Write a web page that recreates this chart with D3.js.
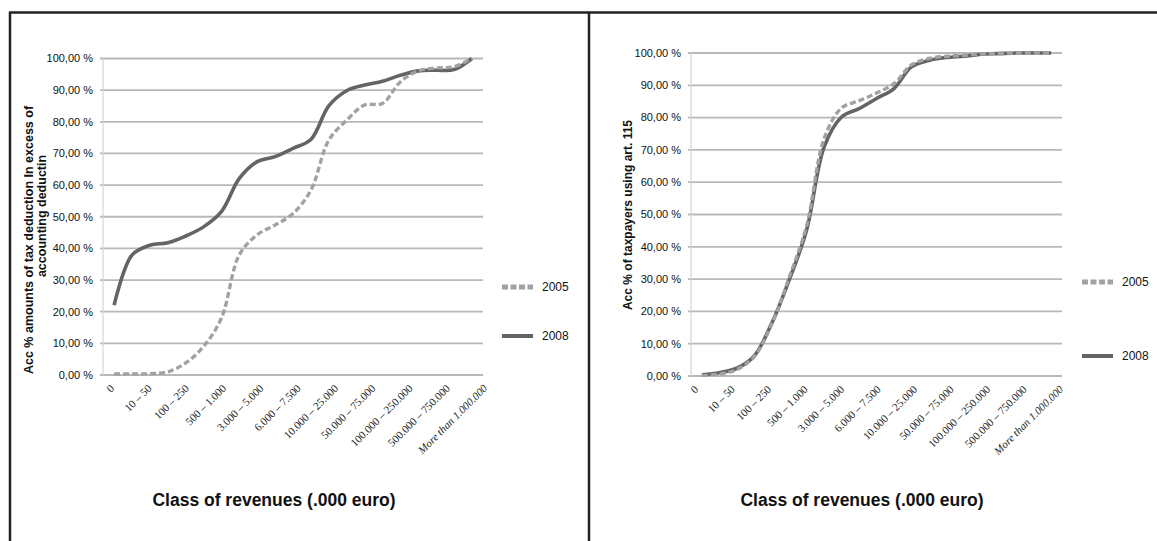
<!DOCTYPE html>
<html>
<head>
<meta charset="utf-8">
<script src="https://cdn.jsdelivr.net/npm/d3@7/dist/d3.min.js"></script>
<style>
  html, body { margin: 0; padding: 0; background: #fff; }
  svg { display: block; }
</style>
</head>
<body>
<svg id="chart" width="1157" height="541"></svg>
<script>
// ---------------- DATA ----------------
const categories = [
  "0", "0 – 10", "10 – 50", "50 – 100", "100 – 250", "250 – 500", "500 – 1.000",
  "1.000 – 3.000", "3.000 – 5.000", "5.000 – 6.000", "6.000 – 7.500", "7.500 – 10.000",
  "10.000 – 25.000", "25.000 – 50.000", "50.000 – 75.000", "75.000 – 100.000",
  "100.000 – 250.000", "250.000 – 500.000", "500.000 – 750.000", "750.000 – 1.000.000",
  "More than 1.000.000"
];
// categories that carry a visible tick label (every other one)
const tickLabels = [
  "0", "10 – 50", "100 – 250", "500 – 1.000", "3.000 – 5.000", "6.000 – 7.500",
  "10.000 – 25.000", "50.000 – 75.000", "100.000 – 250.000", "500.000 – 750.000",
  "More than 1.000.000"
];
const yTicks = [0, 10, 20, 30, 40, 50, 60, 70, 80, 90, 100];
const seriesNames = ["2005", "2008"];

// Left panel: acc % amounts of tax deduction in excess of accounting deduction
const left2005 = [0.3, 0.3, 0.4, 1.0, 3.8, 9.0, 18.0, 38.0, 44.3, 47.4, 51.0, 58.4,
                  74.2, 80.5, 85.3, 85.8, 92.6, 96.1, 97.0, 97.4, 100];
const left2008 = [22.1, 37.9, 41.0, 41.8, 43.9, 46.8, 51.6, 62.1, 67.4, 69.0, 71.6, 74.4,
                  85.0, 89.8, 91.6, 92.8, 94.7, 96.1, 96.3, 96.5, 100];

// Right panel: acc % of taxpayers using art. 115
const right2005 = [0.2, 0.6, 2.0, 6.0, 16.0, 30.5, 46.5, 73.5, 83.0, 85.2, 87.6, 90.5,
                   96.3, 98.3, 99.0, 99.3, 99.7, 99.9, 100, 100, 100];
const right2008 = [0.4, 1.0, 2.4, 6.2, 16.3, 29.7, 45.2, 70.9, 80.2, 82.8, 85.9, 89.0,
                   95.7, 97.7, 98.6, 99.0, 99.6, 99.8, 100, 100, 100];

const leftTitle = ["Acc % amounts of tax deduction In excess of", "accounting deductin"];
const rightTitle = ["Acc % of taxpayers using art. 115"];
const xTitle = "Class of revenues (.000 euro)";

// ---------------- DRAW ----------------
const svg = d3.select("#chart");
svg.append("rect").attr("width", 1157).attr("height", 541).attr("fill", "#fff");

// frame lines
const frame = svg.append("g").attr("stroke", "#222").attr("stroke-width", 2.5);
frame.append("line").attr("x1", 9).attr("x2", 1157).attr("y1", 12.5).attr("y2", 12.5);
frame.append("line").attr("x1", 10).attr("x2", 10).attr("y1", 12).attr("y2", 541);
frame.append("line").attr("x1", 589).attr("x2", 589).attr("y1", 12).attr("y2", 541);

const fmtPct = v => d3.format(".2f")(v).replace(".", ",") + " %";
const sans = "Liberation Sans, Arial, sans-serif";

function panel(cfg) {
  const g = svg.append("g");
  const x = d3.scalePoint().domain(categories)
    .range([cfg.gx0, cfg.gx1]).padding(cfg.pad);
  const y = d3.scaleLinear().domain([0, 100]).range([cfg.y0, cfg.y1]);
  // tick-label anchor positions
  const xl = d3.scalePoint().domain(tickLabels).range(cfg.labRange);

  // gridlines
  g.append("g").selectAll("line").data(yTicks).join("line")
    .attr("x1", cfg.gx0 - 3).attr("x2", cfg.gx1)
    .attr("y1", d => y(d)).attr("y2", d => y(d))
    .attr("stroke", "#b8b8b8").attr("stroke-width", 1.8);
  // vertical axis line
  g.append("line").attr("x1", cfg.gx0).attr("x2", cfg.gx0)
    .attr("y1", y(100)).attr("y2", y(0))
    .attr("stroke", "#d6d6d6").attr("stroke-width", 1.2);

  // y tick labels
  g.append("g").selectAll("text").data(yTicks).join("text")
    .attr("x", cfg.gx0 - 10).attr("y", d => y(d)).attr("dy", "0.35em")
    .attr("text-anchor", "end")
    .attr("font-family", sans)
    .attr("font-size", 11).attr("fill", "#111")
    .text(fmtPct);

  // x tick labels
  g.append("g").selectAll("text").data(tickLabels).join("text")
    .attr("transform", d => `translate(${xl(d)},${y(0) + 14}) rotate(-45)`)
    .attr("text-anchor", "end")
    .attr("font-family", "Liberation Serif, Times New Roman, serif")
    .attr("font-size", 11).attr("fill", "#222")
    .attr("font-style", d => d.startsWith("More") ? "italic" : "normal")
    .text(d => d);

  // y axis title
  cfg.ytitle.forEach((t, i) => {
    g.append("text")
      .attr("transform", `translate(${cfg.ytx + i * 13},${cfg.yty[i]}) rotate(-90)`)
      .attr("text-anchor", "middle")
      .attr("font-family", sans)
      .attr("font-weight", "bold").attr("font-size", cfg.ytSize).attr("fill", "#111")
      .text(t);
  });

  // x axis title
  g.append("text").attr("x", cfg.xtx).attr("y", 506)
    .attr("text-anchor", "middle")
    .attr("font-family", sans)
    .attr("font-weight", "bold").attr("font-size", 17.5).attr("fill", "#111")
    .text(xTitle);

  const line = d3.line()
    .x((d, i) => x(categories[i]))
    .y(d => y(d))
    .curve(d3.curveCatmullRom.alpha(0.5));

  // 2008 solid
  g.append("path").datum(cfg.s2008).attr("d", line)
    .attr("fill", "none").attr("stroke", "#646464").attr("stroke-width", 3.6)
    .attr("stroke-linejoin", "round");
  // 2005 dashed
  g.append("path").datum(cfg.s2005).attr("d", line)
    .attr("fill", "none").attr("stroke", "#a2a2a2").attr("stroke-width", 3.4)
    .attr("stroke-dasharray", "6,3");

  // legend
  const lg = g.append("g").attr("font-family", sans)
    .attr("font-size", 12).attr("fill", "#111");
  seriesNames.forEach((name, i) => {
    const ly = cfg.legY[i];
    lg.append("line").attr("x1", cfg.legX).attr("x2", cfg.legX + 31)
      .attr("y1", ly).attr("y2", ly)
      .attr("stroke", i === 0 ? "#a2a2a2" : "#646464")
      .attr("stroke-width", i === 0 ? 5 : 4)
      .attr("stroke-dasharray", i === 0 ? "6,2.5" : null);
    lg.append("text").attr("x", cfg.legX + 40).attr("y", ly).attr("dy", "0.35em")
      .text(name);
  });
}

panel({
  gx0: 103, gx1: 483, pad: 0.62, y0: 375, y1: 58.5,
  labRange: [115, 488],
  s2005: left2005, s2008: left2008,
  ytitle: leftTitle, ytx: 33, yty: [240, 216], ytSize: 12.5,
  xtx: 274, legX: 502, legY: [287, 336]
});

panel({
  gx0: 691, gx1: 1062, pad: 0.62, y0: 376, y1: 53,
  labRange: [699, 1064],
  s2005: right2005, s2008: right2008,
  ytitle: rightTitle, ytx: 632, yty: [215], ytSize: 12,
  xtx: 862, legX: 1082, legY: [282, 356]
});
</script>
</body>
</html>
